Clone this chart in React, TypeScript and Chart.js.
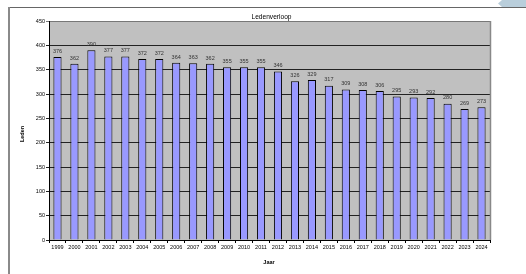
import React, { useEffect, useRef } from "react";
import { Chart, registerables } from "chart.js";

Chart.register(...registerables);

const years = ["1999","2000","2001","2002","2003","2004","2005","2006","2007","2008","2009","2010","2011","2012","2013","2014","2015","2016","2017","2018","2019","2020","2021","2022","2023","2024"];
const leden = [376, 362, 390, 377, 377, 372, 372, 364, 363, 362, 355, 355, 355, 346, 326, 329, 317, 309, 308, 306, 295, 293, 292, 280, 269, 273];
const chartTitle = "Ledenverloop";
const yTitle = "Leden";
const xTitle = "Jaar";

const FONT = "'Liberation Sans', Arial, sans-serif";

const decor = {
  id: "decor",
  beforeDraw(chart: any) {
    const { ctx, chartArea } = chart;
    ctx.save();
    ctx.fillStyle = "#ffffff";
    ctx.fillRect(0, 0, chart.width, chart.height);
    ctx.fillStyle = "#C0C0C0";
    ctx.fillRect(chartArea.left, chartArea.top, chartArea.right - chartArea.left, chartArea.bottom - chartArea.top);
    ctx.restore();
  },
  afterDraw(chart: any) {
    const { ctx, chartArea } = chart;
    ctx.save();
    // outer frame
    ctx.strokeStyle = "#666";
    ctx.lineWidth = 1;
    ctx.beginPath();
    ctx.moveTo(8, 7.5);
    ctx.lineTo(526, 7.5);
    ctx.stroke();
    ctx.strokeStyle = "#8a8a8a";
    ctx.lineWidth = 2;
    ctx.beginPath();
    ctx.moveTo(9, 7);
    ctx.lineTo(9, 274);
    ctx.stroke();
    // tab at top right
    ctx.fillStyle = "#B9CEDB";
    ctx.beginPath();
    ctx.moveTo(502, 0);
    ctx.lineTo(526, 0);
    ctx.lineTo(526, 7);
    ctx.lineTo(502, 7);
    ctx.lineTo(498, 3.5);
    ctx.closePath();
    ctx.fill();
    // plot right border
    ctx.strokeStyle = "#888";
    ctx.lineWidth = 1.5;
    ctx.beginPath();
    ctx.moveTo(chartArea.right + 0.5, chartArea.top);
    ctx.lineTo(chartArea.right + 0.5, chartArea.bottom);
    ctx.stroke();

    // data labels
    const meta = chart.getDatasetMeta(0);
    ctx.fillStyle = "#333";
    ctx.font = `5.5px ${FONT}`;
    ctx.textAlign = "center";
    ctx.textBaseline = "bottom";
    meta.data.forEach((bar: any, i: number) => {
      ctx.fillText(String(leden[i]), bar.x, bar.y - 3);
    });

    // title
    ctx.fillStyle = "#000";
    ctx.font = `6.6px ${FONT}`;
    ctx.textBaseline = "alphabetic";
    ctx.fillText(chartTitle, (chartArea.left + chartArea.right) / 2 + 2, 19);

    // axis titles
    ctx.font = `bold 5.5px ${FONT}`;
    ctx.textBaseline = "middle";
    ctx.fillText(xTitle, 269, 262);
    ctx.translate(22, 134);
    ctx.rotate(-Math.PI / 2);
    ctx.fillText(yTitle, 0, 0);
    ctx.restore();
  },
};

export default function App() {
  const ref = useRef<HTMLCanvasElement | null>(null);
  useEffect(() => {
    if (!ref.current) return;
    const chart = new Chart(ref.current, {
      type: "bar",
      data: {
        labels: years,
        datasets: [
          {
            data: leden,
            backgroundColor: "#9999FF",
            borderColor: "#000000",
            borderWidth: 1,
            barPercentage: 0.48,
            categoryPercentage: 1,
          },
        ],
      },
      options: {
        animation: false,
        responsive: false,
        maintainAspectRatio: false,
        layout: { padding: { left: 0, top: 21, right: 36, bottom: 0 } },
        plugins: {
          legend: { display: false },
          title: { display: false },
          tooltip: { enabled: false },
        },
        scales: {
          x: {
            afterFit: (s: any) => { s.height = 34; },
            grid: {
              offset: true,
              drawOnChartArea: false,
              drawTicks: true,
              tickLength: 3,
              color: "#000",
            },
            border: { display: true, color: "#000", width: 1 },
            ticks: {
              autoSkip: false,
              maxRotation: 0,
              minRotation: 0,
              padding: 1,
              color: "#000",
              font: { family: FONT, size: 5.5 },
            },
          },
          y: {
            min: 0,
            max: 450,
            afterFit: (s: any) => { s.width = 49; },
            grid: {
              color: (c: any) => (c.tick && c.tick.value === 450 ? "#777" : "#222"),
              lineWidth: 1,
              drawTicks: true,
              tickLength: 3,
            },
            border: { display: true, color: "#000", width: 1 },
            ticks: {
              stepSize: 50,
              padding: 1,
              color: "#000",
              font: { family: FONT, size: 5.5 },
            },
          },
        },
      },
      plugins: [decor],
    });
    return () => chart.destroy();
  }, []);
  return (
    <div style={{ position: "absolute", left: 0, top: 0, width: 526, height: 274 }}>
      <canvas ref={ref} width={526} height={274} style={{ width: 526, height: 274, display: "block" }} />
    </div>
  );
}
